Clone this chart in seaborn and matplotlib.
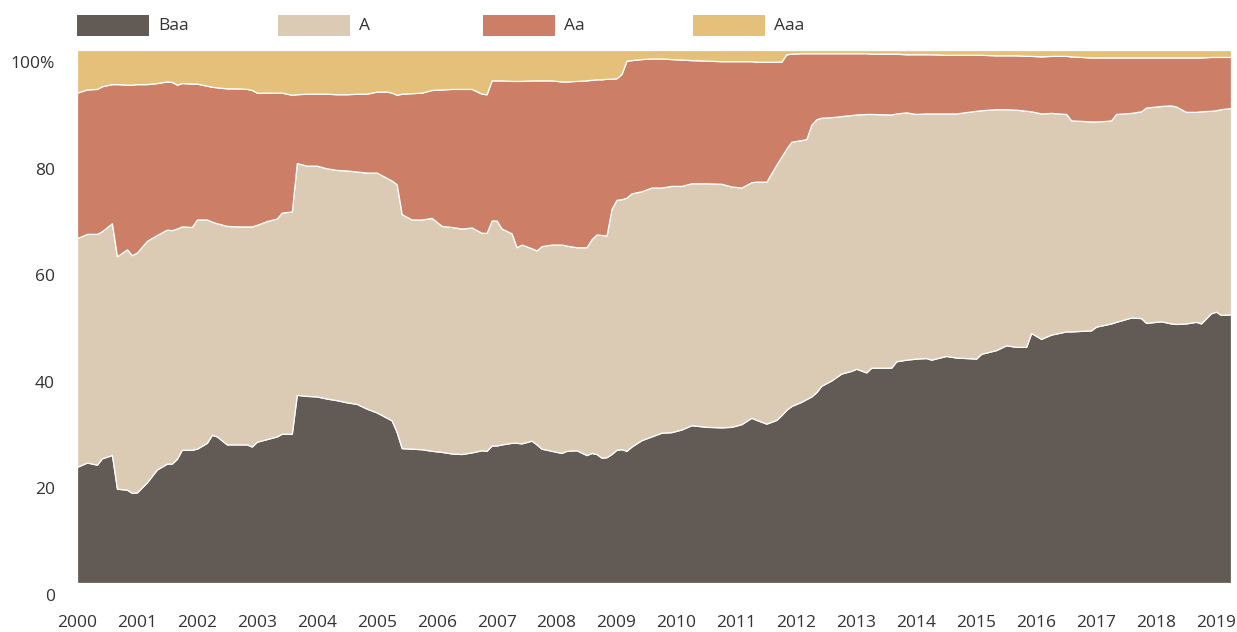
import numpy as np
import matplotlib
matplotlib.use("Agg")
import matplotlib.pyplot as plt
import matplotlib.transforms as mtransforms
from matplotlib.patches import Rectangle
import seaborn as sns

# months since Jan 2000
months = [0, 2, 4, 5, 7, 8, 10, 11, 12, 14, 16, 18, 19, 20, 21, 23, 24, 26, 27, 28,
          30, 32, 34, 35, 36, 38, 40, 41, 43, 44, 46, 48, 50, 52, 54, 56, 58, 60, 62, 63,
          64, 65, 67, 69, 71, 73, 75, 77, 79, 81, 82, 83, 84, 85, 87, 88, 89, 91, 92, 93,
          95, 97, 98, 100, 102, 103, 104, 105, 106, 107, 108, 109, 110, 111, 113, 115, 117, 119, 121, 123,
          126, 129, 131, 133, 135, 136, 138, 140, 141, 142, 143, 145, 146, 147, 148, 149, 151, 153, 155, 156,
          158, 159, 163, 164, 166, 168, 170, 171, 174, 176, 180, 181, 184, 186, 188, 190, 191, 193, 195, 198,
          199, 203, 204, 206, 207, 208, 211, 213, 214, 217, 219, 220, 222, 224, 225, 227, 228, 229, 231]

baa = [21.8, 22.6, 22.2, 23.4, 24.0, 17.7, 17.5, 16.9, 17.0, 18.9, 21.3, 22.4, 22.4, 23.3, 25.0, 25.0, 25.2, 26.3, 27.8, 27.5,
       26.0, 26.0, 26.0, 25.6, 26.5, 27.0, 27.5, 28.0, 28.0, 35.3, 35.1, 35.0, 34.6, 34.3, 33.9, 33.6, 32.7, 32.0, 31.0, 30.5,
       28.3, 25.3, 25.2, 25.1, 24.8, 24.6, 24.3, 24.2, 24.5, 24.9, 24.8, 25.8, 25.8, 26.0, 26.3, 26.3, 26.2, 26.7, 26.0, 25.2,
       24.8, 24.4, 24.8, 24.9, 24.0, 24.4, 24.2, 23.5, 23.6, 24.2, 25.0, 25.1, 24.8, 25.6, 26.8, 27.5, 28.2, 28.3, 28.8, 29.6,
       29.3, 29.2, 29.3, 29.8, 31.0, 30.6, 29.9, 30.6, 31.5, 32.5, 33.2, 34.0, 34.5, 35.0, 35.8, 37.0, 38.0, 39.3, 39.8, 40.2,
       39.5, 40.4, 40.4, 41.6, 41.9, 42.1, 42.2, 41.9, 42.6, 42.3, 42.1, 43.0, 43.7, 44.6, 44.3, 44.3, 46.9, 45.8, 46.6, 47.2,
       47.2, 47.4, 48.1, 48.5, 48.7, 49.0, 49.8, 49.7, 48.8, 49.1, 48.7, 48.6, 48.7, 49.0, 48.7, 50.6, 50.9, 50.3, 50.4]

a = [42.9, 42.9, 43.3, 42.6, 43.5, 43.6, 45.1, 44.6, 45.0, 45.3, 44.0, 43.9, 43.8, 43.2, 41.9, 41.8, 43.0, 41.9, 40.0, 40.0,
     41.0, 40.9, 40.9, 41.3, 40.7, 40.9, 40.9, 41.5, 41.7, 43.5, 43.2, 43.3, 43.2, 43.2, 43.5, 43.6, 44.3, 45.0, 45.0, 45.0,
     46.5, 43.9, 43.0, 43.1, 43.7, 42.4, 42.5, 42.3, 42.2, 40.8, 40.9, 42.2, 42.2, 40.5, 39.3, 36.7, 37.3, 36.1, 36.4, 38.0,
     38.7, 39.1, 38.5, 38.1, 39.0, 40.1, 41.2, 41.8, 41.6, 46.0, 46.9, 46.9, 47.5, 47.5, 46.7, 46.7, 46.0, 46.2, 45.7, 45.4,
     45.7, 45.7, 45.1, 44.4, 44.2, 44.7, 45.4, 47.9, 48.5, 49.0, 49.6, 49.1, 48.8, 51.0, 51.2, 50.3, 49.4, 48.3, 48.0, 47.7,
     48.5, 47.6, 47.5, 46.5, 46.4, 45.9, 45.9, 46.2, 45.5, 45.8, 46.5, 45.7, 45.2, 44.3, 44.5, 44.3, 41.6, 42.3, 41.6, 40.8,
     39.6, 39.2, 38.5, 38.2, 38.1, 39.0, 38.4, 38.8, 40.4, 40.4, 40.9, 40.8, 39.7, 39.4, 39.8, 38.0, 37.8, 38.6, 38.7]

aa = [27.3, 27.1, 27.2, 27.2, 26.1, 32.3, 30.9, 32.0, 31.6, 29.4, 28.5, 27.8, 27.8, 27.0, 26.9, 26.9, 25.5, 25.1, 25.3, 25.5,
      25.8, 25.9, 25.8, 25.6, 24.8, 24.1, 23.6, 22.5, 21.9, 12.9, 13.5, 13.5, 14.0, 14.2, 14.3, 14.6, 14.8, 15.2, 16.2, 16.5,
      16.8, 22.6, 23.7, 23.8, 24.0, 25.6, 25.9, 26.2, 26.0, 26.1, 26.0, 26.3, 26.3, 27.8, 28.6, 31.2, 30.7, 31.5, 31.9, 31.1,
      30.8, 30.6, 30.8, 31.2, 31.3, 29.9, 29.1, 29.2, 29.4, 24.4, 22.8, 23.5, 25.7, 25.0, 24.8, 24.2, 24.2, 23.8, 23.7, 23.1,
      23.0, 23.0, 23.5, 23.7, 22.7, 22.5, 22.5, 19.3, 17.8, 17.7, 16.5, 16.3, 16.1, 13.4, 12.4, 12.1, 12.0, 11.8, 11.6, 11.5,
      11.4, 11.3, 11.4, 11.2, 10.9, 11.2, 11.1, 11.1, 11.0, 11.0, 10.5, 10.4, 10.1, 10.1, 10.2, 10.3, 10.4, 10.7, 10.7, 10.9,
      12.0, 12.0, 12.0, 11.9, 11.8, 10.6, 10.4, 10.1, 9.4, 9.1, 9.0, 9.2, 10.2, 10.2, 10.1, 10.1, 10.0, 9.8, 9.6]

aaa = [8.0, 7.4, 7.3, 6.8, 6.4, 6.4, 6.5, 6.5, 6.4, 6.4, 6.2, 5.9, 6.0, 6.5, 6.2, 6.3, 6.3, 6.7, 6.9, 7.0,
       7.2, 7.2, 7.3, 7.5, 8.0, 8.0, 8.0, 8.0, 8.4, 8.3, 8.2, 8.2, 8.2, 8.3, 8.3, 8.2, 8.2, 7.8, 7.8, 8.0,
       8.4, 8.2, 8.1, 8.0, 7.5, 7.4, 7.3, 7.3, 7.3, 8.2, 8.3, 5.7, 5.7, 5.7, 5.8, 5.8, 5.8, 5.7, 5.7, 5.7,
       5.7, 5.9, 5.9, 5.8, 5.7, 5.6, 5.5, 5.5, 5.4, 5.4, 5.3, 4.5, 2.0, 1.9, 1.7, 1.6, 1.6, 1.7, 1.8, 1.9,
       2.0, 2.1, 2.1, 2.1, 2.1, 2.2, 2.2, 2.2, 2.2, 0.8, 0.7, 0.6, 0.6, 0.6, 0.6, 0.6, 0.6, 0.6, 0.6, 0.6,
       0.6, 0.7, 0.7, 0.7, 0.8, 0.8, 0.8, 0.8, 0.9, 0.9, 0.9, 0.9, 1.0, 1.0, 1.0, 1.1, 1.1, 1.2, 1.1, 1.1,
       1.2, 1.4, 1.4, 1.4, 1.4, 1.4, 1.4, 1.4, 1.4, 1.4, 1.4, 1.4, 1.4, 1.4, 1.4, 1.3, 1.3, 1.3, 1.3]

labels = ["Baa", "A", "Aa", "Aaa"]
colors = ["#625A54", "#DCCBB4", "#CC7F66", "#E4C07A"]
year_ticks = list(range(2000, 2020))
y_ticks = [0, 20, 40, 60, 80, 100]
y_ticklabels = ["0", "20", "40", "60", "80", "100%"]

sns.set_theme(style="white")
plt.rcParams["font.family"] = ["Open Sans", "DejaVu Sans"]
text_color = "#333333"

x = 2000 + np.array(months) / 12.0

fig = plt.figure(figsize=(12.37, 6.32), dpi=100)
ax = fig.add_axes([77 / 1237, 1 - 583 / 632, (1231 - 77) / 1237, (583 - 50) / 632])

ax.stackplot(x, baa, a, aa, aaa, colors=colors, labels=labels,
             edgecolor="white", linewidth=0.9)

ax.set_xlim(x[0], x[-1])
ax.set_ylim(0, 100)
ax.set_xticks(year_ticks)
ax.set_xticklabels([str(yr) for yr in year_ticks])
ax.set_yticks(y_ticks)
ax.set_yticklabels(y_ticklabels)
ax.tick_params(axis="both", length=0, labelsize=12.5, colors=text_color)
ax.tick_params(axis="x", pad=23)
ax.tick_params(axis="y", pad=16)
for s in ax.spines.values():
    s.set_visible(False)
ax.grid(False)

# tick labels sit a little below their values
shift = mtransforms.ScaledTranslation(0, -12 / 100, fig.dpi_scale_trans)
for lbl in ax.get_yticklabels():
    lbl.set_transform(lbl.get_transform() + shift)

# legend row along the top
legend_x = [77, 278, 483, 693]
for px, lab, col in zip(legend_x, labels, colors):
    fig.patches.append(Rectangle((px / 1237, 1 - 36 / 632), 72 / 1237, 21 / 632,
                                 transform=fig.transFigure, facecolor=col, edgecolor="none"))
    fig.text((px + 81) / 1237, 1 - 26 / 632, lab, fontsize=12.5, color=text_color,
             ha="left", va="center")

fig.savefig("out.png", dpi=100)
